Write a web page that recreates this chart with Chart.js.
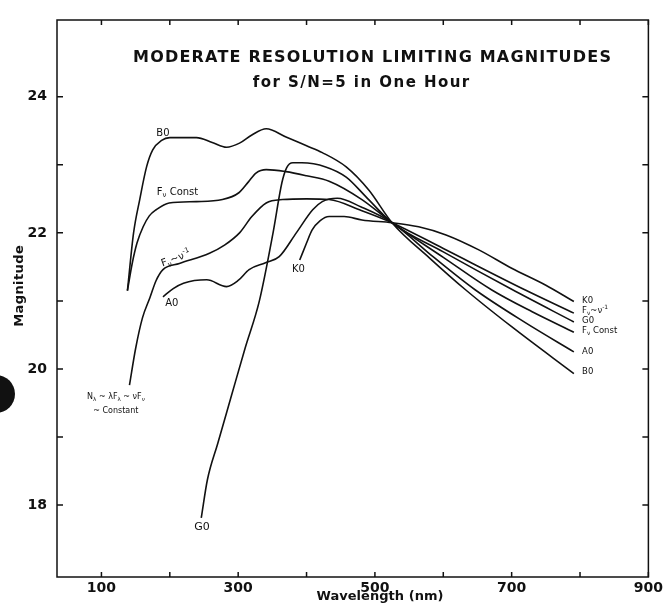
<!DOCTYPE html>
<html>
<head>
<meta charset="utf-8">
<title>Moderate Resolution Limiting Magnitudes</title>
<script src="https://cdn.jsdelivr.net/npm/chart.js@4.4.0/dist/chart.umd.min.js"></script>
<style>
    html, body { margin: 0; padding: 0; background: #fff; }
    .chart-box { width: 666px; height: 616px; position: relative; }
</style>
</head>
<body>
<div class="chart-box"><canvas id="chart" width="666" height="616"></canvas></div>
<script>
// Кривые: длина волны (нм) и предельная звездная величина
const b0Wave = [138, 147, 156, 166, 175, 188, 200, 239, 262, 283, 302, 320, 341, 370, 400, 423, 458, 491, 525, 580, 633, 700, 791];
const b0Mag  = [21.15, 22.0, 22.49, 22.97, 23.22, 23.36, 23.40, 23.40, 23.33, 23.26, 23.32, 23.44, 23.53, 23.41, 23.28, 23.18, 22.97, 22.63, 22.15, 21.63, 21.16, 20.62, 19.93];

const fConstWave = [138, 145, 152, 161, 170, 180, 199, 239, 277, 301, 315, 326, 341, 370, 400, 433, 481, 525, 600, 671, 730, 791];
const fConstMag  = [21.15, 21.55, 21.85, 22.09, 22.25, 22.34, 22.44, 22.46, 22.49, 22.59, 22.75, 22.88, 22.93, 22.90, 22.84, 22.76, 22.49, 22.15, 21.64, 21.16, 20.84, 20.54];

const fNuWave = [141, 150, 160, 171, 180, 190, 214, 258, 280, 302, 320, 341, 365, 400, 433, 480, 525, 600, 720, 791];
const fNuMag  = [19.76, 20.3, 20.75, 21.05, 21.3, 21.46, 21.55, 21.70, 21.82, 22.0, 22.24, 22.44, 22.49, 22.50, 22.49, 22.33, 22.15, 21.77, 21.16, 20.82];

const a0Wave = [190, 205, 220, 254, 283, 300, 316, 340, 360, 385, 409, 423, 445, 480, 525, 585, 647, 720, 791];
const a0Mag  = [21.06, 21.18, 21.26, 21.31, 21.21, 21.30, 21.46, 21.56, 21.65, 22.0, 22.34, 22.46, 22.51, 22.38, 22.15, 21.65, 21.16, 20.68, 20.25];

const g0Wave = [246, 255, 270, 290, 310, 331, 351, 364, 371, 380, 393, 428, 458, 487, 525, 600, 700, 791];
const g0Mag  = [17.81, 18.37, 18.9, 19.6, 20.3, 21.0, 22.0, 22.74, 22.96, 23.03, 23.03, 22.97, 22.82, 22.53, 22.15, 21.72, 21.17, 20.69];

const k0Wave = [390, 400, 408, 420, 433, 455, 481, 525, 564, 604, 652, 700, 750, 791];
const k0Mag  = [21.60, 21.85, 22.04, 22.18, 22.24, 22.24, 22.19, 22.15, 22.09, 21.97, 21.75, 21.48, 21.23, 20.99];

// Деления и подписи осей
const xTickValues  = [100, 200, 300, 400, 500, 600, 700, 800, 900];
const xLabelValues = [100, 300, 500, 700, 900];
const yTickValues  = [18, 19, 20, 21, 22, 23, 24];
const yLabelValues = [18, 20, 22, 24];

document.addEventListener('DOMContentLoaded', Core);

function Core()
{
    InitChartJs();
}

function MakeLine(wave, mag)
{
    return {
        data: wave.map((w, i) => ({ x: w, y: mag[i] })),
        borderColor: '#111',
        borderWidth: 1.6,
        pointRadius: 0,
        fill: false,
        cubicInterpolationMode: 'monotone'
    };
}

// Текст с нижними/верхними индексами
function DrawRichText(ctx, parts, x, y, size, align, angle)
{
    let font = 'DejaVu Sans';
    let total = 0;

    parts.forEach(p => {
        ctx.font = (p[1] ? size * 0.7 : size) + 'px "' + font + '"';
        total += ctx.measureText(p[0]).width;
    });

    ctx.save();
    ctx.translate(x, y);
    ctx.rotate(angle || 0);
    ctx.textBaseline = 'middle';
    ctx.textAlign = 'left';

    let cx = align === 'center' ? -total / 2 : 0;

    parts.forEach(p => {
        ctx.font = (p[1] ? size * 0.7 : size) + 'px "' + font + '"';
        let dy = p[1] === 'sub' ? size * 0.35 : (p[1] === 'sup' ? -size * 0.4 : 0);
        ctx.fillText(p[0], cx, dy);
        cx += ctx.measureText(p[0]).width;
    });

    ctx.restore();
}

// Текст, растянутый межбуквенным интервалом до заданной ширины
function DrawSpacedText(ctx, text, cx, cy, font, width, angle)
{
    ctx.save();
    ctx.translate(cx, cy);
    ctx.rotate(angle || 0);
    ctx.font = font;
    ctx.letterSpacing = '0px';
    let w = ctx.measureText(text).width;
    let spacing = (width - w) / text.length;
    ctx.letterSpacing = spacing + 'px';
    ctx.textAlign = 'center';
    ctx.textBaseline = 'middle';
    ctx.fillText(text, spacing / 2, 0);
    ctx.restore();
}

// Подписи кривых, позиции в единицах осей
const curveLabels = [
    { parts: [['B0', '']], x: 190, y: 23.46, size: 10, align: 'center' },
    { parts: [['F', ''], ['ν', 'sub'], [' Const', '']], x: 181, y: 22.60, size: 10, align: 'left' },
    { parts: [['F', ''], ['ν', 'sub'], ['~ν', ''], ['-1', 'sup']], x: 209, y: 21.62, size: 10, align: 'center', angle: -0.35 },
    { parts: [['A0', '']], x: 203, y: 20.97, size: 10, align: 'center' },
    { parts: [['K0', '']], x: 388, y: 21.47, size: 10, align: 'center' },
    { parts: [['G0', '']], x: 247, y: 17.68, size: 11, align: 'center' },
    { parts: [['N', ''], ['λ', 'sub'], [' ~ λF', ''], ['λ', 'sub'], [' ~ νF', ''], ['ν', 'sub']], x: 79, y: 19.59, size: 8, align: 'left' },
    { parts: [['~ Constant', '']], x: 88, y: 19.38, size: 8, align: 'left' },
    { parts: [['K0', '']], x: 803, y: 21.00, size: 8.5, align: 'left' },
    { parts: [['F', ''], ['ν', 'sub'], ['~ν', ''], ['-1', 'sup']], x: 803, y: 20.86, size: 8.5, align: 'left' },
    { parts: [['G0', '']], x: 803, y: 20.71, size: 8.5, align: 'left' },
    { parts: [['F', ''], ['ν', 'sub'], [' Const', '']], x: 803, y: 20.56, size: 8.5, align: 'left' },
    { parts: [['A0', '']], x: 803, y: 20.25, size: 8.5, align: 'left' },
    { parts: [['B0', '']], x: 803, y: 19.96, size: 8.5, align: 'left' }
];

const framePlugin = {
    id: 'frame',
    afterDatasetsDraw(chart)
    {
        let ctx = chart.ctx;
        let a = chart.chartArea;
        let xs = chart.scales.x;
        let ys = chart.scales.y;

        ctx.save();
        ctx.strokeStyle = '#111';
        ctx.lineWidth = 1.5;
        ctx.strokeRect(a.left, a.top, a.right - a.left, a.bottom - a.top);

        ctx.beginPath();
        xTickValues.forEach(v => {
            let px = xs.getPixelForValue(v);
            ctx.moveTo(px, a.bottom); ctx.lineTo(px, a.bottom - 5);
            ctx.moveTo(px, a.top); ctx.lineTo(px, a.top + 5);
        });
        yTickValues.forEach(v => {
            let py = ys.getPixelForValue(v);
            ctx.moveTo(a.left, py); ctx.lineTo(a.left + 6, py);
            ctx.moveTo(a.right, py); ctx.lineTo(a.right - 6, py);
        });
        ctx.stroke();

        // Подписи кривых
        ctx.fillStyle = '#111';
        curveLabels.forEach(l => {
            DrawRichText(ctx, l.parts, xs.getPixelForValue(l.x), ys.getPixelForValue(l.y), l.size, l.align, l.angle);
        });

        // Заголовок внутри рамки и подписи осей
        DrawSpacedText(ctx, 'MODERATE RESOLUTION LIMITING MAGNITUDES', 372, 58, 'bold 16px "DejaVu Sans"', 479);
        DrawSpacedText(ctx, 'for S/N=5 in One Hour', 361, 83, 'bold 15px "DejaVu Sans"', 218);
        DrawSpacedText(ctx, 'Wavelength (nm)', 380, 597, 'bold 13px "DejaVu Sans"', 127);
        DrawSpacedText(ctx, 'Magnitude', 20, 286, 'bold 13px "DejaVu Sans"', 82, -Math.PI / 2);

        // Пятно от дырокола на скане
        ctx.beginPath();
        ctx.arc(-4, 394, 19, 0, Math.PI * 2);
        ctx.fill();

        ctx.restore();
    }
};

function InitChartJs()
{
    let chart = document.getElementById('chart');

    if (chart == null)
    {
        return;
    }

    new Chart(chart.getContext('2d'), {
        type: 'line',
        data: {
            datasets: [
                MakeLine(b0Wave, b0Mag),
                MakeLine(fConstWave, fConstMag),
                MakeLine(fNuWave, fNuMag),
                MakeLine(a0Wave, a0Mag),
                MakeLine(g0Wave, g0Mag),
                MakeLine(k0Wave, k0Mag)
            ]
        },
        options: {
            responsive: false,
            animation: false,
            layout: {
                padding: { left: 0, right: 16.5, top: 20, bottom: 0 }
            },
            plugins: {
                legend: { display: false },
                tooltip: { enabled: false }
            },
            scales: {
                x: {
                    type: 'linear',
                    min: 35,
                    max: 900,
                    grid: { display: false, drawTicks: false },
                    border: { display: false },
                    afterBuildTicks: s => { s.ticks = xTickValues.map(v => ({ value: v })); },
                    afterFit: s => { s.height = 39; },
                    ticks: {
                        autoSkip: false,
                        maxRotation: 0,
                        padding: 3,
                        color: '#111',
                        font: { family: 'DejaVu Sans', size: 14, weight: 'bold' },
                        callback: v => xLabelValues.includes(v) ? String(v) : ''
                    }
                },
                y: {
                    min: 16.94,
                    max: 25.13,
                    grid: { display: false, drawTicks: false },
                    border: { display: false },
                    afterBuildTicks: s => { s.ticks = yTickValues.map(v => ({ value: v })); },
                    afterFit: s => { s.width = 57; },
                    ticks: {
                        autoSkip: false,
                        padding: 10,
                        color: '#111',
                        font: { family: 'DejaVu Sans', size: 14, weight: 'bold' },
                        callback: v => yLabelValues.includes(v) ? String(v) : ''
                    }
                }
            }
        },
        plugins: [framePlugin]
    });
}
</script>
</body>
</html>
